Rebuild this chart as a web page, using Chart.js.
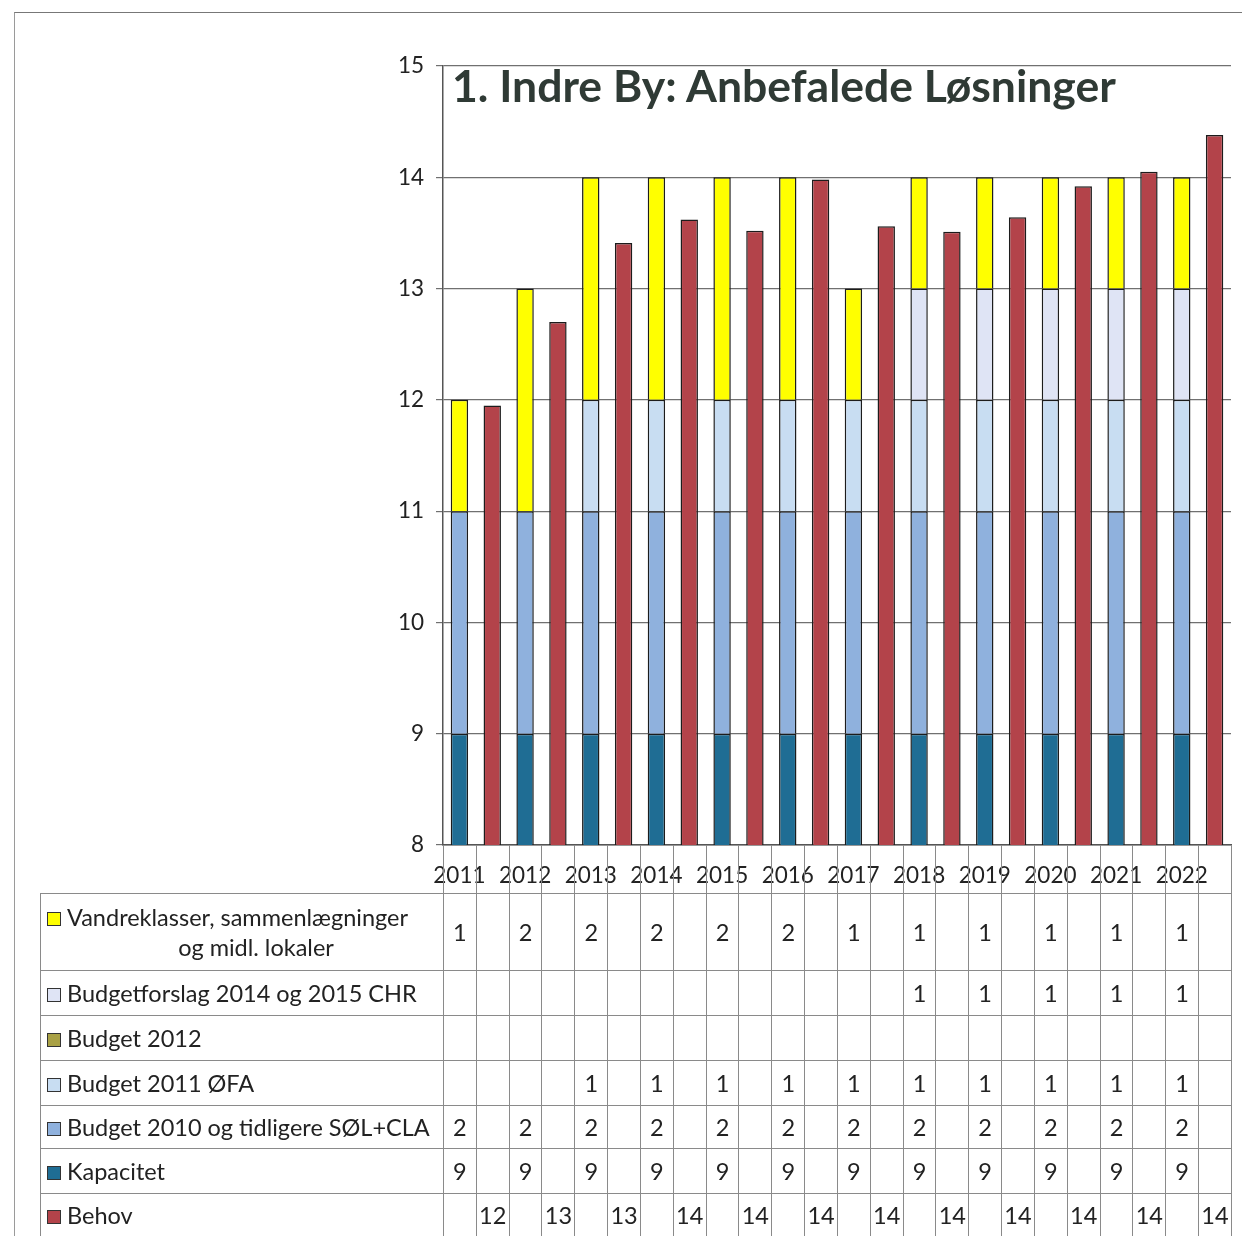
<!DOCTYPE html>
<html lang="da">
<head>
<meta charset="UTF-8">
<title>1. Indre By: Anbefalede Løsninger</title>
<script src="https://cdn.jsdelivr.net/npm/chart.js"></script>
<style>
    body { margin: 0; background: #fff; }
    #wrap { position: relative; width: 1242px; height: 1236px; overflow: hidden; font-family: Lato, "Noto Sans", sans-serif; color: #222; }
    #frame { position: absolute; left: 14px; top: 12px; width: 1240px; height: 1240px; border-top: 1.5px solid #777; border-left: 1.5px solid #9a9a9a; }
    canvas { position: absolute; left: 0; top: 0; }
    #title { position: absolute; left: 452px; top: 58px; font-size: 44.5px; font-weight: bold; color: #2f3a35; line-height: 54px; white-space: nowrap; }
    #dataTable { position: absolute; left: 40px; top: 845px; border-collapse: collapse; table-layout: fixed; font-size: 23.5px; }
    #dataTable td { border: 1.5px solid #8a8a8a; padding: 0; text-align: center; white-space: nowrap; overflow: hidden; }
    #dataTable tr.head td { border-top: none; }
    #dataTable tr.head td.lab { border: none; }
    #dataTable td.lab { text-align: left; padding-left: 6px; }
    .sw { display: inline-block; width: 12px; height: 12px; border: 1.5px solid #333; margin-right: 6px; vertical-align: 0px; }
    .l1, .line2 { line-height: 30px; }
    .line2 { text-align: center; padding-left: 22px; }
</style>
</head>
<body>
<div id="wrap">
    <div id="frame"></div>
    <canvas id="chart" width="1242" height="1236"></canvas>
    <div id="title">1. Indre By: Anbefalede Løsninger</div>
    <table id="dataTable"></table>
</div>
<script>
    // data
    const years = ['2011', '2012', '2013', '2014', '2015', '2016', '2017', '2018', '2019', '2020', '2021', '2022'];
    const kapacitet = [9, 9, 9, 9, 9, 9, 9, 9, 9, 9, 9, 9];
    const budget2010 = [2, 2, 2, 2, 2, 2, 2, 2, 2, 2, 2, 2];
    const budget2011 = [null, null, 1, 1, 1, 1, 1, 1, 1, 1, 1, 1];
    const budget2012 = [null, null, null, null, null, null, null, null, null, null, null, null];
    const budgetforslag = [null, null, null, null, null, null, null, 1, 1, 1, 1, 1];
    const vandreklasser = [1, 2, 2, 2, 2, 2, 1, 1, 1, 1, 1, 1];
    const behov = [11.95, 12.7, 13.41, 13.62, 13.52, 13.98, 13.56, 13.51, 13.64, 13.92, 14.05, 14.38];

    // each year gets two slots: stacked bar, then Behov bar
    const labels = years.flatMap(y => [y, '']);
    const first = arr => arr.flatMap(v => [v, null]);
    const second = arr => arr.flatMap(v => [null, v]);

    const series = [
        { label: 'Kapacitet', data: kapacitet, color: '#1f6d94' },
        { label: 'Budget 2010 og tidligere SØL+CLA', data: budget2010, color: '#8fb1dd' },
        { label: 'Budget 2011 ØFA', data: budget2011, color: '#c8ddf2' },
        { label: 'Budget 2012', data: budget2012, color: '#a9a145' },
        { label: 'Budgetforslag 2014 og 2015 CHR', data: budgetforslag, color: '#dfe4f5' },
        { label: 'Vandreklasser, sammenlægninger og midl. lokaler', data: vandreklasser, color: '#ffff00' }
    ];
    const behovColor = '#b3434a';

    const datasets = series.map(s => ({
        label: s.label,
        data: first(s.data),
        backgroundColor: s.color,
        borderColor: '#1c1c1c',
        borderWidth: 1.5
    }));
    datasets.push({
        label: 'Behov',
        data: second(behov),
        backgroundColor: behovColor,
        borderColor: '#1c1c1c',
        borderWidth: 1.5
    });

    const tickFont = { family: 'Lato', size: 22.5 };

    const chart = new Chart(document.getElementById('chart'), {
        type: 'bar',
        data: { labels: labels, datasets: datasets },
        options: {
            responsive: false,
            animation: false,
            layout: { padding: { top: 66, right: 11, bottom: 343, left: 0 } },
            datasets: { bar: { barPercentage: 0.53, categoryPercentage: 1 } },
            plugins: { legend: { display: false }, tooltip: { enabled: false } },
            scales: {
                x: {
                    stacked: true,
                    grid: { display: false },
                    border: { display: true, color: '#555', width: 1.5 },
                    ticks: { autoSkip: false, maxRotation: 0, padding: 9, color: '#222', font: tickFont },
                    afterFit: s => { s.height = 48; }
                },
                y: {
                    stacked: true,
                    min: 8,
                    max: 15,
                    ticks: { stepSize: 1, padding: 12, color: '#222', font: tickFont },
                    grid: { color: '#707070', lineWidth: 1.2, tickLength: 7 },
                    border: { color: '#555', width: 1.5 },
                    afterFit: s => { s.width = 443; }
                }
            }
        }
    });

    // data table under the chart, columns lined up with the x scale
    const area = chart.chartArea;
    const xs = chart.scales.x;
    const colW = (area.right - area.left) / labels.length;
    const table = document.getElementById('dataTable');
    const cg = document.createElement('colgroup');
    const labCol = document.createElement('col');
    labCol.style.width = (area.left - 40) + 'px';
    cg.appendChild(labCol);
    labels.forEach((_, i) => {
        const c = document.createElement('col');
        const l = xs.getPixelForTick(i) - colW / 2;
        const r = xs.getPixelForTick(i) + colW / 2;
        c.style.width = (r - l) + 'px';
        cg.appendChild(c);
    });
    table.appendChild(cg);

    function addRow(cls, height, labelHtml, cells) {
        const tr = document.createElement('tr');
        if (cls) tr.className = cls;
        tr.style.height = height + 'px';
        const th = document.createElement('td');
        th.className = 'lab';
        th.innerHTML = labelHtml;
        tr.appendChild(th);
        cells.forEach(v => {
            const td = document.createElement('td');
            td.textContent = v;
            tr.appendChild(td);
        });
        table.appendChild(tr);
    }
    const sw = c => '<span class="sw" style="background:' + c + '"></span>';
    const cellsFirst = arr => arr.flatMap(v => [v == null ? '' : v, '']);
    const cellsSecond = arr => arr.flatMap(v => ['', Math.round(v)]);

    addRow('head', 48, '', labels.map(() => ''));
    addRow('', 77, '<div class="l1">' + sw(series[5].color) + 'Vandreklasser, sammenlægninger</div><div class="line2">og midl. lokaler</div>', cellsFirst(vandreklasser));
    addRow('', 45, sw(series[4].color) + series[4].label, cellsFirst(budgetforslag));
    addRow('', 45, sw(series[3].color) + series[3].label, cellsFirst(budget2012));
    addRow('', 45, sw(series[2].color) + series[2].label, cellsFirst(budget2011));
    addRow('', 43, sw(series[1].color) + series[1].label, cellsFirst(budget2010));
    addRow('', 45, sw(series[0].color) + series[0].label, cellsFirst(kapacitet));
    addRow('', 44, sw(behovColor) + 'Behov', cellsSecond(behov));
</script>
</body>
</html>
